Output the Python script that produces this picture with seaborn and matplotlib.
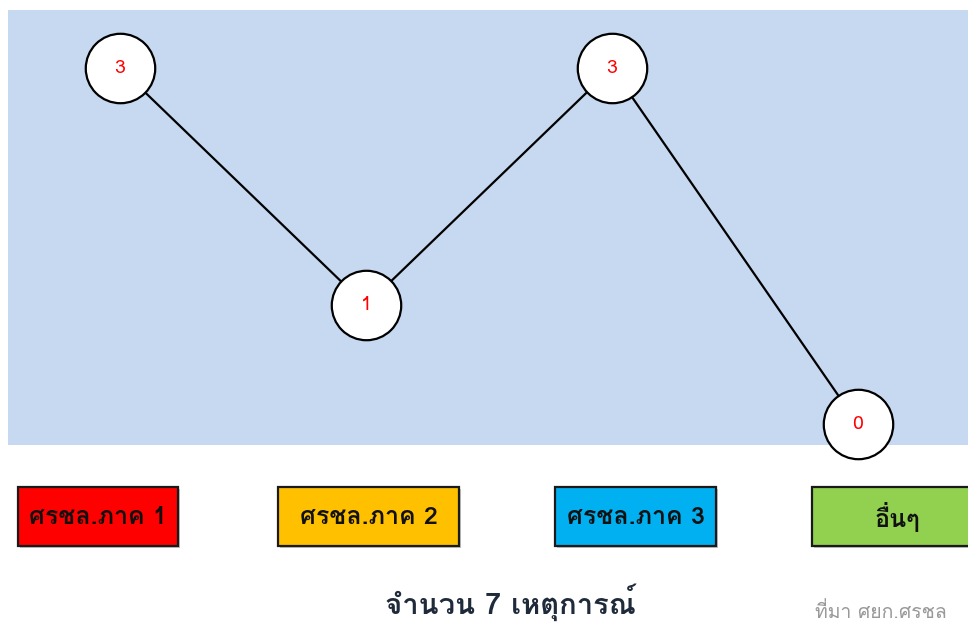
import matplotlib
matplotlib.use("Agg")
import matplotlib.pyplot as plt
import matplotlib.patches as mpatches
import seaborn as sns
import pandas as pd

# Data
categories = ["ศรชล.ภาค 1", "ศรชล.ภาค 2", "ศรชล.ภาค 3", "อื่นๆ"]
counts = [3, 1, 3, 0]
box_colors = ["#FF0000", "#FFC000", "#00B0F0", "#92D050"]
title = "จำนวน 7 เหตุการณ์"
source = "ที่มา ศยก.ศรชล"

sns.set_theme(style="white")
plt.rcParams["font.family"] = ["Loma", "Noto Sans Thai Looped", "DejaVu Sans"]

df = pd.DataFrame({"pos": range(len(categories)), "count": counts})

W, H = 968, 628
fig = plt.figure(figsize=(W / 100, H / 100), dpi=100)
ax = fig.add_axes([8 / W, 1 - 445 / H, 1 - 8 / W, 435 / H])
ax.set_facecolor("#C6D9F0")

sns.lineplot(data=df, x="pos", y="count", ax=ax, color="black", linewidth=1.6,
             marker="o", markersize=50, markerfacecolor="white",
             markeredgecolor="black", markeredgewidth=1.6)
for ln in ax.lines:
    ln.set_clip_on(False)
    ln.set_zorder(5)

for x, v in zip(df["pos"], df["count"]):
    ax.text(x, v, str(v), color="#FF0000", fontsize=14,
            ha="center", va="center", zorder=6, clip_on=False)

ax.set_xlim(-0.455, 3.447)
ax.set_ylim(-0.177, 3.49)
ax.set_xticks([])
ax.set_yticks([])
ax.set_xlabel("")
ax.set_ylabel("")
for s in ax.spines.values():
    s.set_visible(False)

# category boxes under the chart
box_left = [18, 278, 555, 812]
box_width = [160, 181, 161, 170]
for cat, col, bx, bw in zip(categories, box_colors, box_left, box_width):
    shadow = mpatches.Rectangle(((bx + 2) / W, 1 - 548 / H), bw / W, 59 / H,
                                transform=fig.transFigure, facecolor="#888888",
                                edgecolor="none", alpha=0.5, zorder=1)
    rect = mpatches.Rectangle((bx / W, 1 - 546 / H), bw / W, 59 / H,
                              transform=fig.transFigure, facecolor=col,
                              edgecolor="#1a1a1a", linewidth=1.6, zorder=2)
    fig.patches.extend([shadow, rect])
    fig.text((bx + bw / 2) / W, 1 - 517 / H, cat, ha="center", va="center",
             fontsize=18, fontweight="bold", color="#111111", zorder=3)

fig.text(510 / W, 1 - 602 / H, title, ha="center", va="center",
         fontsize=21, fontweight="bold", color="#1F2B3A")
fig.text(815 / W, 1 - 612 / H, source, ha="left", va="center",
         fontsize=14, color="#999999")

fig.savefig("out.png", dpi=100)
